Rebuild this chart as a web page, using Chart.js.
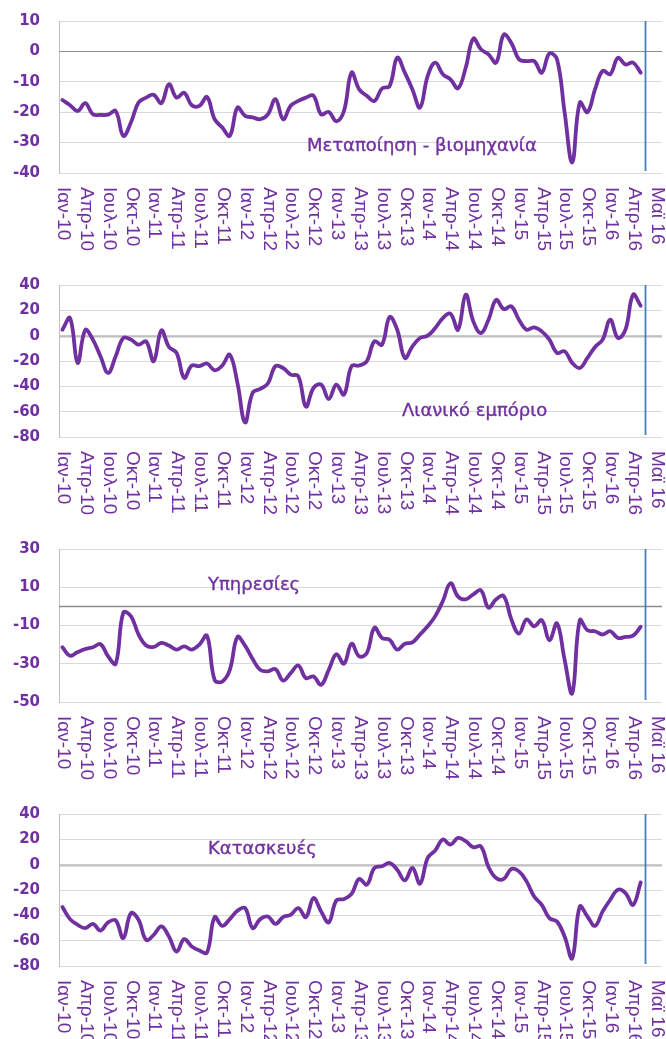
<!DOCTYPE html>
<html>
<head>
<meta charset="utf-8">
<script src="https://cdn.jsdelivr.net/npm/chart.js@4/dist/chart.umd.min.js"></script>
<style>
    body { margin: 0; background: #fff; }
    #page { position: relative; width: 666px; height: 1039px; overflow: hidden; }
    canvas { position: absolute; left: 0; }
    .panel-title {
        position: absolute;
        font-family: "DejaVu Sans", sans-serif;
        font-size: 18px;
        line-height: 20px;
        color: #7030A0;
        white-space: nowrap;
        -webkit-text-stroke: 0.35px #7030A0;
    }
</style>
</head>
<body>
<div id="page">
    <canvas id="manufacturingChart" width="666" height="260" style="top:0px"></canvas>
    <canvas id="retailChart" width="666" height="260" style="top:260px"></canvas>
    <canvas id="servicesChart" width="666" height="260" style="top:520px"></canvas>
    <canvas id="constructionChart" width="666" height="259" style="top:780px"></canvas>
    <div class="panel-title" style="left:307px; top:135px">Μεταποίηση - βιομηχανία</div>
    <div class="panel-title" style="left:402px; top:400px">Λιανικό εμπόριο</div>
    <div class="panel-title" style="left:208px; top:574px">Υπηρεσίες</div>
    <div class="panel-title" style="left:208px; top:838px">Κατασκευές</div>
</div>
<script>
// Monthly balances, Jan 2010 - May 2016 (77 months)
const manufacturing = [
    -16, -17.7, -19.6, -17, -20.7, -20.9, -20.8, -19.6, -27.8, -23.4,
    -16.8, -15.2, -14.3, -17, -10.8, -15.2, -13.6, -17.7, -17.9, -15,
    -22.3, -25, -27.8, -18.5, -21.2, -21.7, -22.3, -20.7, -15.7, -22.3,
    -17.9, -16.3, -15.2, -14.6, -20.7, -19.9, -23, -19.6, -7, -12.5,
    -14.6, -16.3, -12.2, -11.4, -2.1, -7, -12.5, -18.5, -8.1, -3.7,
    -7.5, -9.2, -12.1, -5.4, 4.2, 0.7, -1, -3.7, 5.5, 2.8,
    -2.6, -3.2, -3.2, -7, -0.7, -2.6, -20, -36.5, -16.8, -20,
    -12.5, -6.4, -7.5, -2.1, -4.3, -3.7, -7
];
const retail = [
    4.7, 13.9, -21.5, 4.5, -3.1, -16.3, -29.4, -16.3, -1.8, -3.1,
    -7.1, -4.5, -20.2, 4.2, -8.9, -13.6, -33.3, -23.6, -24.1, -22,
    -27.3, -23.6, -15, -37.3, -68.5, -45.1, -42, -37.8, -24.1, -25.5,
    -30.7, -32, -56, -41.2, -38.6, -50, -38.6, -46.5, -24.1, -23.6,
    -20.2, -4.5, -7.1, 14.7, 4.7, -17.6, -8.4, -1.8, 0, 6,
    13.9, 17.3, 4.7, 32.3, 11.3, 2.1, 12.6, 28.3, 21, 23.1,
    12.6, 4.7, 6.6, 3.4, -3.1, -13.6, -12.3, -21.5, -25.5, -17.6,
    -8.9, -3.1, 12.6, -1.8, 4.7, 32.3, 23.6
];
const services = [
    -21.4, -25.8, -23.9, -22.3, -21.4, -19.8, -26.1, -30, -3.3, -5.1,
    -14.7, -20.5, -21.2, -19.1, -20.5, -22.6, -20.9, -22.6, -20, -15.3,
    -38.4, -39.3, -33.2, -16, -20.5, -27.5, -33.2, -34, -32.8, -38.8,
    -34.9, -30.9, -37.5, -36.7, -41, -33.2, -25, -30, -19.5, -26.1,
    -24.4, -11.2, -16.5, -17.4, -22.6, -19.5, -18.8, -14.7, -10.4, -5.1,
    2.8, 12.1, 5.1, 3.7, 6.3, 8.4, -0.7, 3.7, 5.4, -6.8,
    -14.2, -6.8, -10.4, -7.2, -17.7, -8.9, -27.9, -45.4, -7.2, -12.5,
    -13, -14.7, -13, -16.5, -16, -15.3, -10.7
];
const construction = [
    -33.5, -43, -47.5, -50.1, -46.7, -52, -45.6, -44, -58, -38.3,
    -43.5, -59.4, -55.4, -48.8, -56.7, -68.6, -58.8, -64.6, -67.8, -69.4,
    -41.4, -48.3, -43, -36.4, -34.3, -50.1, -43, -40.9, -46.7, -41.4,
    -39.6, -34.3, -41.4, -26.4, -36.9, -45.6, -28.2, -27.2, -23, -11.3,
    -15.8, -2.6, -1.3, 1.3, -4, -12.4, -2.6, -15, 5.3, 11.3,
    19.8, 15.8, 21.1, 18.5, 13.7, 14.5, -1.8, -10.6, -11.3, -3.4,
    -5.3, -13.2, -25.1, -31.7, -42.2, -44.9, -56.7, -73.9, -33, -40.9,
    -48.3, -36.9, -27.7, -19.8, -22.4, -31.7, -14
];

// x tick labels, one every 3 months (month index 0, 3, 6, ...)
const tickLabels = [
    'Ιαν-10', 'Απρ-10', 'Ιουλ-10', 'Οκτ-10',
    'Ιαν-11', 'Απρ-11', 'Ιουλ-11', 'Οκτ-11',
    'Ιαν-12', 'Απρ-12', 'Ιουλ-12', 'Οκτ-12',
    'Ιαν-13', 'Απρ-13', 'Ιουλ-13', 'Οκτ-13',
    'Ιαν-14', 'Απρ-14', 'Ιουλ-14', 'Οκτ-14',
    'Ιαν-15', 'Απρ-15', 'Ιουλ-15', 'Οκτ-15',
    'Ιαν-16', 'Απρ-16', 'Μαϊ 16'
];
const tickStep = 3;

// y axis ticks per panel
const ticksWide = [40, 20, 0, -20, -40, -60, -80];
const ticksManufacturing = [10, 0, -10, -20, -30, -40];
const ticksServices = [30, 10, -10, -30, -50];

// month index of the blue marker line
const markerMonth = 76.6;

const PURPLE = '#7030A0';

/**
 * Zero line, marker line and rotated month labels
 */
const panelDecorations = {
    id: 'panelDecorations',
    beforeDatasetsDraw(chart, args, opts) {
        const { ctx, chartArea } = chart;
        const x = chart.scales.x;
        const y = chart.scales.y;

        // horizontal axis line at 0
        const y0 = Math.round(y.getPixelForValue(0)) + 0.5;
        ctx.save();
        ctx.strokeStyle = opts.zeroColor;
        ctx.lineWidth = opts.zeroWidth;
        ctx.beginPath();
        ctx.moveTo(chartArea.left, y0);
        ctx.lineTo(chartArea.right, y0);
        ctx.stroke();

        // vertical marker line
        const xm = Math.round(x.getPixelForValue(markerMonth)) + 0.5;
        ctx.strokeStyle = '#4A7EBB';
        ctx.lineWidth = 1.8;
        ctx.beginPath();
        ctx.moveTo(xm, chartArea.top);
        ctx.lineTo(xm, chartArea.bottom - 2);
        ctx.stroke();
        ctx.restore();
    },
    afterDraw(chart) {
        const { ctx, chartArea } = chart;
        const x = chart.scales.x;
        ctx.save();
        ctx.fillStyle = PURPLE;
        ctx.font = '19px "Liberation Sans", Arial, sans-serif';
        ctx.textAlign = 'left';
        ctx.textBaseline = 'middle';
        tickLabels.forEach((label, k) => {
            const px = x.getPixelForValue(k * tickStep);
            ctx.save();
            ctx.translate(px + 1, chartArea.bottom + 14);
            ctx.rotate(Math.PI / 2);
            ctx.fillText(label, 0, 0);
            ctx.restore();
        });
        ctx.restore();
    }
};

function createPanel(canvasId, values, yTicks, padTop, padBottom, zeroColor, zeroWidth) {
    const ctx = document.getElementById(canvasId);
    return new Chart(ctx, {
        type: 'line',
        data: {
            datasets: [{
                data: values.map((v, i) => ({ x: i, y: v })),
                borderColor: PURPLE,
                borderWidth: 3.8,
                pointRadius: 0,
                tension: 0.4,
                borderCapStyle: 'round',
                borderJoinStyle: 'round',
                fill: false
            }]
        },
        options: {
            responsive: false,
            animation: false,
            layout: {
                padding: { top: padTop, bottom: padBottom, left: 0, right: 4 }
            },
            scales: {
                x: {
                    type: 'linear',
                    display: false,
                    min: -0.45,
                    max: 78.8
                },
                y: {
                    type: 'linear',
                    min: yTicks[yTicks.length - 1],
                    max: yTicks[0],
                    afterBuildTicks: scale => {
                        scale.ticks = yTicks.map(v => ({ value: v }));
                    },
                    afterFit: scale => {
                        scale.width = 59;
                    },
                    grid: {
                        color: '#D9D9D9',
                        lineWidth: 1,
                        drawTicks: true,
                        tickLength: 19,
                        tickColor: 'rgba(0,0,0,0)'
                    },
                    border: {
                        display: true,
                        color: '#BFBFBF',
                        width: 1
                    },
                    ticks: {
                        padding: 0,
                        color: PURPLE,
                        font: { family: 'DejaVu Sans', size: 15, weight: 'bold' }
                    }
                }
            },
            plugins: {
                legend: { display: false },
                tooltip: { enabled: false },
                panelDecorations: { zeroColor: zeroColor, zeroWidth: zeroWidth }
            }
        },
        plugins: [panelDecorations]
    });
}

createPanel('manufacturingChart', manufacturing, ticksManufacturing, 21, 87, '#8C8C8C', 1);
createPanel('retailChart', retail, ticksWide, 25, 83, '#BFBFBF', 2);
createPanel('servicesChart', services, ticksServices, 29, 78, '#8C8C8C', 1.5);
createPanel('constructionChart', construction, ticksWide, 34, 73, '#BFBFBF', 2);
</script>
</body>
</html>
